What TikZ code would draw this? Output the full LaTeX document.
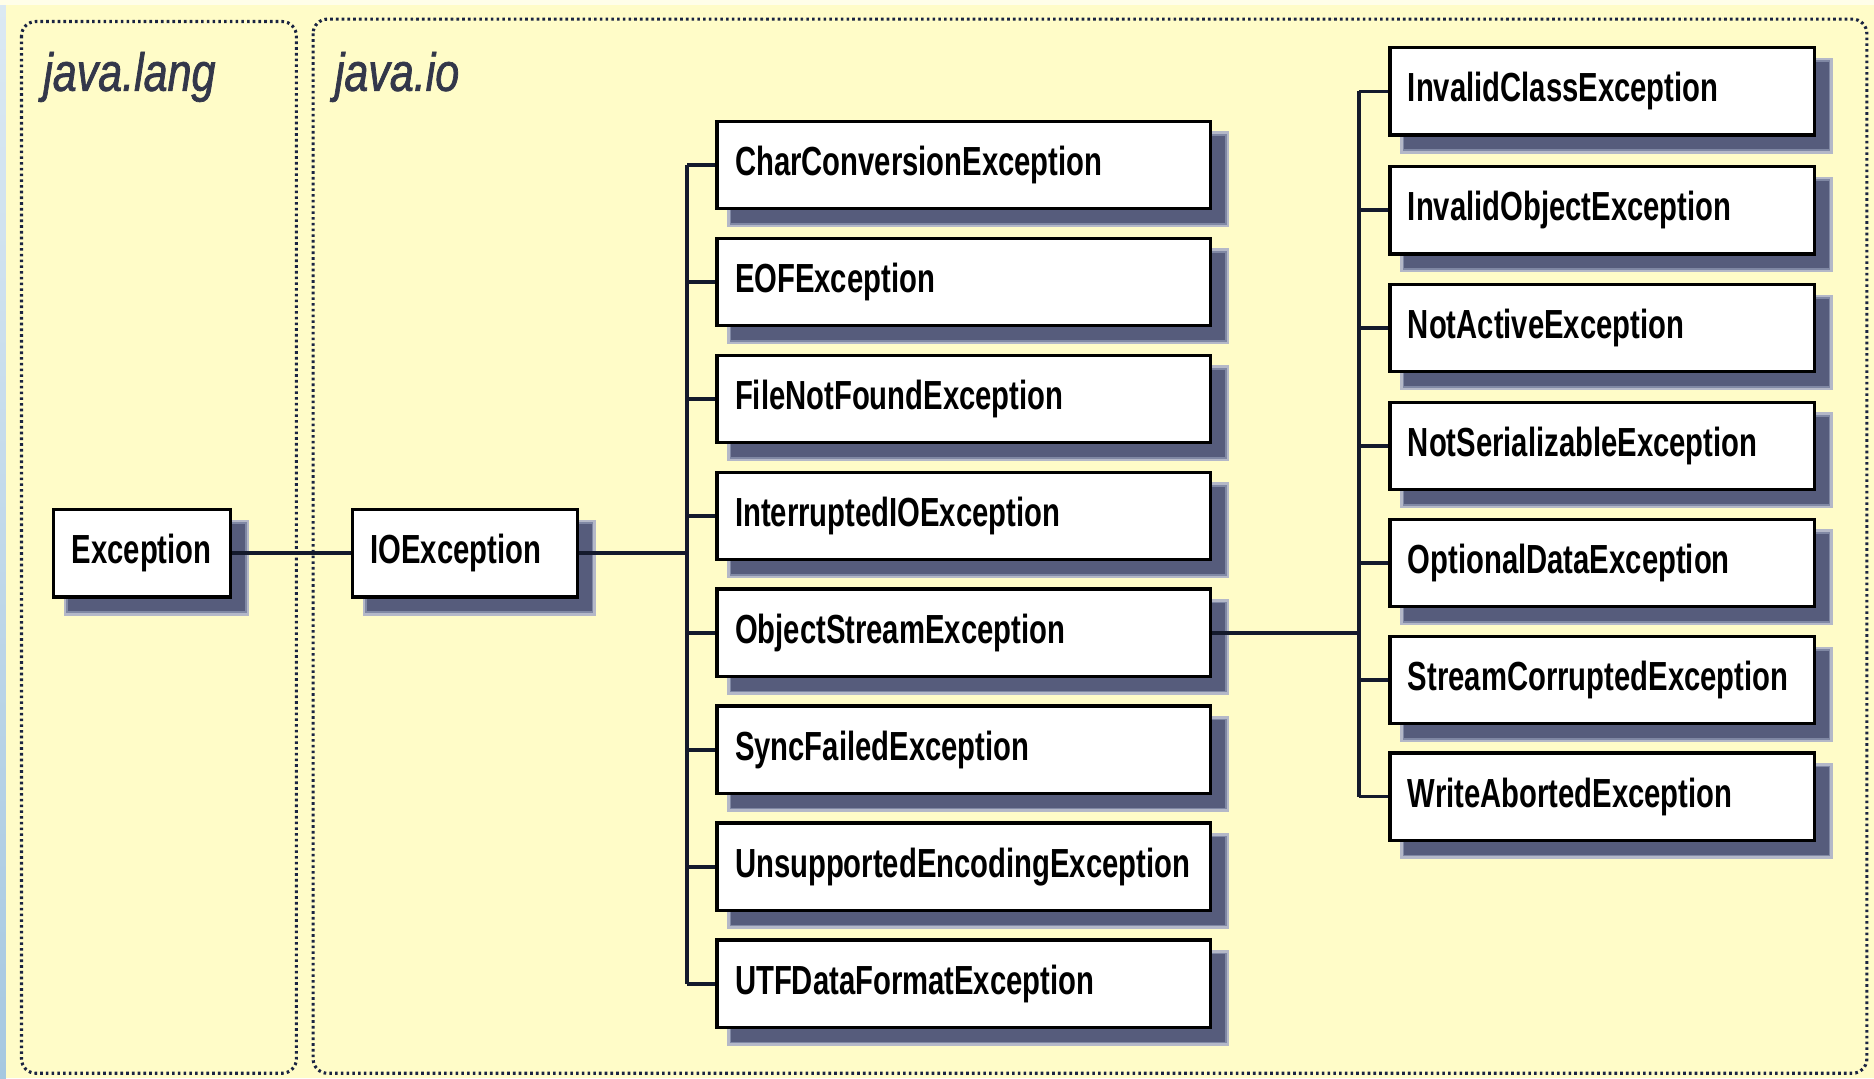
\documentclass[tikz,border=0pt]{standalone}
\usepackage{fontspec}
\newfontfamily\boxfont[FakeStretch=0.72]{Liberation Sans}
\newfontfamily\pkgfont[FakeStretch=0.8, FakeBold=1.3]{Liberation Sans}
\usetikzlibrary{shadows}

\definecolor{paper}{HTML}{FFFCC8}
\definecolor{ink}{HTML}{141A2C}
\definecolor{frameink}{HTML}{1A2442}
\definecolor{labelink}{HTML}{33374A}
\definecolor{edgeblue}{HTML}{A6C8E0}
\definecolor{shadowsoft}{HTML}{B4B8C8}
\definecolor{shadowmid}{HTML}{8088A4}
\definecolor{shadowcore}{HTML}{565C7C}

\tikzset{
  classbox/.style={draw=black, fill=white, line width=2.8pt, rectangle,
    minimum height=73pt, inner xsep=15pt, inner ysep=0pt, align=left,
    font=\boxfont\bfseries\fontsize{34}{36}\selectfont,
    % soft drop shadow, built up from a pale halo to a dark core
    general shadow={draw=shadowsoft, fill=shadowsoft, line width=7pt,
      shadow xshift=12pt, shadow yshift=-12pt},
    general shadow={draw=shadowmid, fill=shadowmid, line width=3pt,
      shadow xshift=12pt, shadow yshift=-12pt},
    general shadow={fill=shadowcore, shadow xshift=12pt, shadow yshift=-12pt}},
  midbox/.style={classbox, text width=383pt},
  rightbox/.style={classbox, text width=325pt},
  conn/.style={draw=ink, line width=3.2pt},
  pkgframe/.style={draw=frameink, line width=2.6pt,
    dash pattern=on 2.2pt off 2.6pt, rounded corners=12pt},
  pkglabel/.style={text=labelink, inner sep=0pt,
    font=\pkgfont\itshape\fontsize{45}{48}\selectfont}
}

\begin{document}
\begin{tikzpicture}[x=1pt,y=-1pt]
  % page and its edges
  \useasboundingbox (0,0) rectangle (1568,902);
  \fill[paper] (0,0) rectangle (1568,902);
  \fill[top color=edgeblue!40, bottom color=edgeblue] (0,0) rectangle (5,902);
  \fill[white!60!paper] (0,0) rectangle (1568,4);

  % package frames
  \draw[pkgframe] (18,18) rectangle (248,898);
  \draw[pkgframe] (262,16) rectangle (1562,898);
  \node[pkglabel, anchor=base west] (langlabel) at (36,76) {java.lang};
  \node[pkglabel, anchor=base west] (iolabel) at (280,76) {java.io};

  % java.lang
  \node[classbox, text width=118pt] (exc) at (119,463) {Exception};

  % java.io
  \node[classbox, text width=158pt] (ioe) at (389,463) {IOException};

  \node[midbox] (charconv) at (806.5,138.0) {CharConversionException};
  \node[midbox] (eof)      at (806.5,235.9) {EOFException};
  \node[midbox] (fnf)      at (806.5,333.7) {FileNotFoundException};
  \node[midbox] (intio)    at (806.5,431.6) {InterruptedIOException};
  \node[midbox] (objstream)at (806.5,529.4) {ObjectStreamException};
  \node[midbox] (syncfail) at (806.5,627.3) {SyncFailedException};
  \node[midbox] (unsupenc) at (806.5,725.1) {UnsupportedEncodingException};
  \node[midbox] (utfdata)  at (806.5,823.0) {UTFDataFormatException};

  \node[rightbox] (invclass)  at (1340.5,76.5)  {InvalidClassException};
  \node[rightbox] (invobj)    at (1340.5,176.0) {InvalidObjectException};
  \node[rightbox] (notactive) at (1340.5,274.5) {NotActiveException};
  \node[rightbox] (notser)    at (1340.5,373.0) {NotSerializableException};
  \node[rightbox] (optdata)   at (1340.5,471.0) {OptionalDataException};
  \node[rightbox] (streamcor) at (1340.5,569.0) {StreamCorruptedException};
  \node[rightbox] (writeab)   at (1340.5,666.5) {WriteAbortedException};

  % inheritance trunks
  \coordinate (trunkio) at (575,0);
  \coordinate (trunkos) at (1137,0);

  \draw[conn] (exc.east) -- (ioe.west);
  \draw[conn] (ioe.east) -- (ioe.east -| trunkio);
  \draw[conn] (charconv.west -| trunkio) -- (utfdata.west -| trunkio);
  \foreach \b in {charconv,eof,fnf,intio,objstream,syncfail,unsupenc,utfdata}
    \draw[conn] (\b.west -| trunkio) -- (\b.west);

  \draw[conn] (objstream.east) -- (objstream.east -| trunkos);
  \draw[conn] (invclass.west -| trunkos) -- (writeab.west -| trunkos);
  \foreach \b in {invclass,invobj,notactive,notser,optdata,streamcor,writeab}
    \draw[conn] (\b.west -| trunkos) -- (\b.west);
\end{tikzpicture}
\end{document}
